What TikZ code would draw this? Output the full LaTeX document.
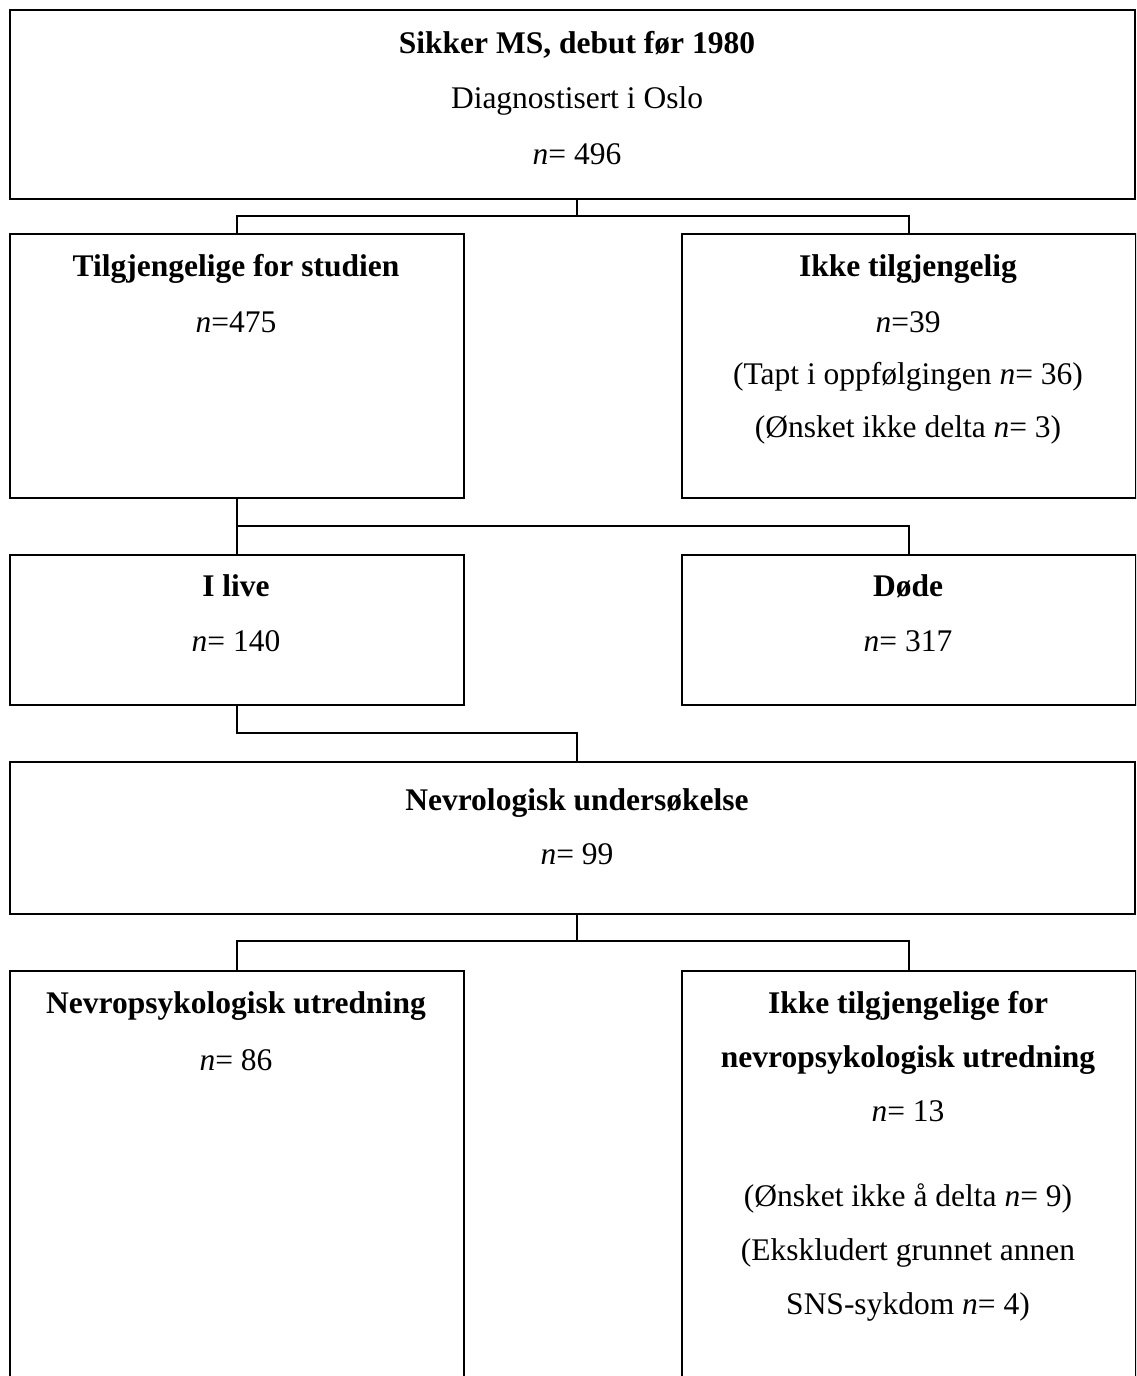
\documentclass[tikz,border=0pt]{standalone}
\usepackage{fontspec}
\setmainfont{Liberation Serif}
\usetikzlibrary{calc}
\tikzset{
  box/.style={draw=black, line width=2pt, rectangle, inner sep=0pt, anchor=north west, fill=none},
  txt/.style={anchor=base, inner sep=0pt, font=\fontsize{31.5}{38}\selectfont},
  conn/.style={draw=black, line width=2pt}
}
\begin{document}
\begin{tikzpicture}[x=1pt,y=-1pt]
\useasboundingbox (0,0) rectangle (1136,1376);
\clip (0,0) rectangle (1136,1376);
% boxes
\node[box, minimum width=1125pt, minimum height=189pt] (top) at (9,9) {};
\node[box, minimum width=454pt, minimum height=264pt] (avail) at (9,233) {};
\node[box, minimum width=454pt, minimum height=264pt] (notavail) at (681,233) {};
\node[box, minimum width=454pt, minimum height=150pt] (alive) at (9,554) {};
\node[box, minimum width=454pt, minimum height=150pt] (dead) at (681,554) {};
\node[box, minimum width=1125pt, minimum height=152pt] (nevro) at (9,761) {};
\node[box, minimum width=454pt, minimum height=440pt] (npsy) at (9,970) {};
\node[box, minimum width=454pt, minimum height=440pt] (nonpsy) at (681,970) {};
% texts
\node[txt] (t1) at (577,53) {\bfseries Sikker MS, debut før 1980};
\node[txt] (t2) at (577,108) {Diagnostisert i Oslo};
\node[txt] (t3) at (577,164) {\textit{n}= 496};
\node[txt] (a1) at (236,276) {\bfseries Tilgjengelige for studien};
\node[txt] (a2) at (236,332) {\textit{n}=475};
\node[txt] (b1) at (908,276) {\bfseries Ikke tilgjengelig};
\node[txt] (b2) at (908,332) {\textit{n}=39};
\node[txt] (b3) at (908,384) {(Tapt i oppfølgingen \textit{n}= 36)};
\node[txt] (b4) at (908,437) {(Ønsket ikke delta \textit{n}= 3)};
\node[txt] (c1) at (236,596) {\bfseries I live};
\node[txt] (c2) at (236,651) {\textit{n}= 140};
\node[txt] (d1) at (908,596) {\bfseries Døde};
\node[txt] (d2) at (908,651) {\textit{n}= 317};
\node[txt] (e1) at (577,810) {\bfseries Nevrologisk undersøkelse};
\node[txt] (e2) at (577,864) {\textit{n}= 99};
\node[txt] (f1) at (236,1013) {\bfseries Nevropsykologisk utredning};
\node[txt] (f2) at (236,1070) {\textit{n}= 86};
\node[txt] (g1) at (908,1013) {\bfseries Ikke tilgjengelige for};
\node[txt] (g2) at (908,1067) {\bfseries nevropsykologisk utredning};
\node[txt] (g3) at (908,1121) {\textit{n}= 13};
\node[txt] (g4) at (908,1206) {(Ønsket ikke å delta \textit{n}= 9)};
\node[txt] (g5) at (908,1260) {(Ekskludert grunnet annen};
\node[txt] (g6) at (908,1314) {SNS-sykdom \textit{n}= 4)};
% junctions
\coordinate (j1) at (577,216);
\coordinate (j2) at (236,526);
\coordinate (j3) at (577,733);
\coordinate (j4) at (577,941);
% connectors
\draw[conn] (top.south -| j1) -- (j1);
\draw[conn] (avail.north) |- (j1) -| (notavail.north);
\draw[conn] (avail.south) -- (alive.north);
\draw[conn] (j2) -| (dead.north);
\draw[conn] (alive.south) |- (j3) -- (nevro.north -| j3);
\draw[conn] (nevro.south -| j4) -- (j4);
\draw[conn] (npsy.north) |- (j4) -| (nonpsy.north);
\end{tikzpicture}
\end{document}
